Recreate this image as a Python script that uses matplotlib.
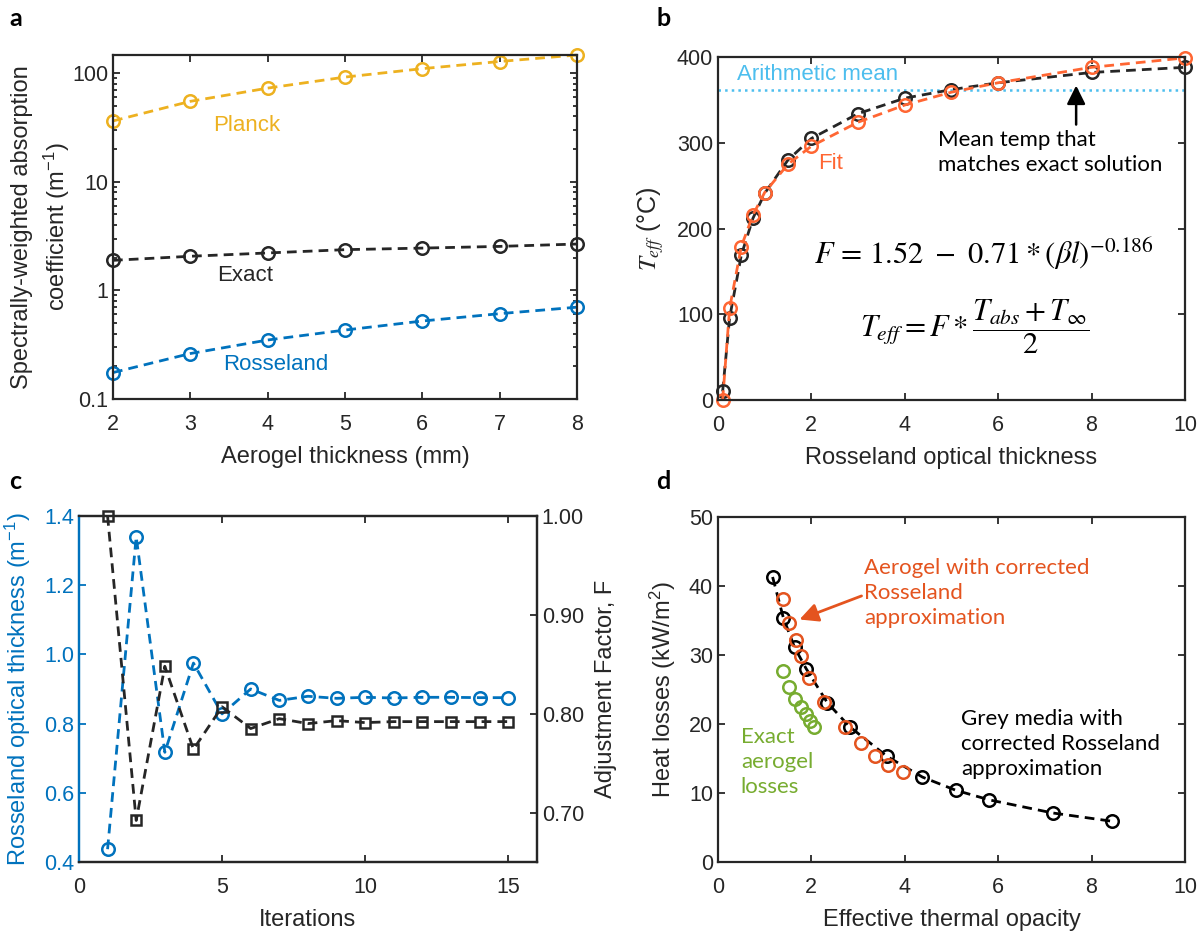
import numpy as np
import matplotlib
matplotlib.use('Agg')
import matplotlib.pyplot as plt
from matplotlib.ticker import FixedLocator, LogLocator, NullFormatter, FormatStrFormatter

plt.rcParams['font.family'] = ['Liberation Sans', 'DejaVu Sans']
plt.rcParams['axes.linewidth'] = 1.6
plt.rcParams['xtick.direction'] = 'in'
plt.rcParams['ytick.direction'] = 'in'
plt.rcParams['xtick.major.pad'] = 11
plt.rcParams['axes.labelpad'] = 8

# panel a: spectrally-weighted absorption coefficient vs aerogel thickness
thickness_mm = [2, 3, 4, 5, 6, 7, 8]
planck = [36.3, 55, 72.8, 92, 110, 128, 147]
exact = [1.89, 2.06, 2.21, 2.37, 2.45, 2.54, 2.67]
rosseland = [0.175, 0.262, 0.349, 0.431, 0.522, 0.61, 0.70]

# panel b: effective temperature vs Rosseland optical thickness
opt_thick = [0.1, 0.25, 0.5, 0.75, 1, 1.5, 2, 3, 4, 5, 6, 8, 10]
teff_exact = [10, 96, 169, 212, 241, 280, 305, 334, 352, 362, 370, 382, 388]
teff_fit = [0, 107, 179, 216, 242, 275, 296, 324, 344, 359, 370, 388, 399]
arith_mean = 362

# panel c: convergence of the iteration
iterations = list(range(1, 16))
ross_iter = [0.437, 1.340, 0.717, 0.975, 0.828, 0.900, 0.867, 0.879, 0.873,
             0.876, 0.874, 0.876, 0.876, 0.875, 0.875]
factor_iter = [1.000, 0.692, 0.848, 0.764, 0.807, 0.785, 0.795, 0.790, 0.793,
               0.791, 0.792, 0.792, 0.792, 0.792, 0.792]

# panel d: heat losses vs effective thermal opacity
grey_x = [1.17, 1.40, 1.64, 1.89, 2.34, 2.82, 3.62, 4.38, 5.09, 5.81, 7.17, 8.44]
grey_y = [41.3, 35.4, 31.1, 28.0, 23.1, 19.6, 15.3, 12.3, 10.4, 9.0, 7.1, 5.9]
aero_x = [1.40, 1.53, 1.67, 1.78, 1.96, 2.28, 2.71, 3.06, 3.36, 3.65, 3.97]
aero_y = [38.1, 34.7, 32.1, 29.8, 26.6, 23.2, 19.6, 17.2, 15.4, 14.1, 13.1]
exloss_x = [1.40, 1.52, 1.65, 1.77, 1.88, 1.98, 2.06]
exloss_y = [27.7, 25.3, 23.6, 22.4, 21.5, 20.5, 19.6]

BLUE = '#0072BD'
YELLOW = '#EDB120'
DARK = '#262626'
ORANGE = '#FF6633'
DORANGE = '#E4541F'
GREEN = '#77AC30'
LBLUE = '#4DBEEE'

TICK_FS = 15.5
LABEL_FS = 17
NOTE_FS = 16
DASH = (3.5, 2.2)


def style(ax):
    ax.tick_params(which='both', top=True, right=True, colors=DARK,
                   labelsize=TICK_FS, width=1.3)
    ax.tick_params(which='major', length=5)
    ax.tick_params(which='minor', length=3)
    for s in ax.spines.values():
        s.set_color(DARK)


def dline(ax, x, y, color, marker='o', ms=9, ls='--'):
    ax.plot(x, y, ls=ls, marker=marker, color=color, mfc='none', ms=ms,
            mew=1.8, lw=2, dashes=DASH if ls == '--' else (None, None),
            clip_on=False)


fig = plt.figure(figsize=(11.98, 9.35), dpi=100)

# ---- a
ax = fig.add_axes([0.0943, 0.5733, 0.3873, 0.3679])
dline(ax, thickness_mm, planck, YELLOW)
dline(ax, thickness_mm, exact, DARK)
dline(ax, thickness_mm, rosseland, BLUE)
ax.set_yscale('log')
ax.set_xlim(2, 8)
ax.set_ylim(0.1, 147)
ax.yaxis.set_major_locator(FixedLocator([0.1, 1, 10, 100]))
ax.set_yticklabels(['0.1', '1', '10', '100'])
ax.yaxis.set_minor_locator(LogLocator(base=10, subs=np.arange(2, 10)))
ax.yaxis.set_minor_formatter(NullFormatter())
style(ax)
ax.set_xlabel('Aerogel thickness (mm)', fontsize=LABEL_FS, color=DARK)
ax.set_ylabel('Spectrally-weighted absorption\ncoefficient (m$\\mathregular{^{-1}}$)',
              fontsize=LABEL_FS, color=DARK, linespacing=1.4, labelpad=0)
ax.text(3.30, 33, 'Planck', color=YELLOW, fontsize=NOTE_FS, va='center')
ax.text(3.35, 1.37, 'Exact', color=DARK, fontsize=NOTE_FS, va='center')
ax.text(3.42, 0.206, 'Rosseland', color=BLUE, fontsize=NOTE_FS, va='center')

# ---- b
ax = fig.add_axes([0.5993, 0.5722, 0.3898, 0.3668])
ax.axhline(arith_mean, color=LBLUE, ls=':', lw=1.8)
dline(ax, opt_thick, teff_exact, DARK)
dline(ax, opt_thick, teff_fit, ORANGE)
ax.set_xlim(0, 10)
ax.set_ylim(0, 400)
ax.set_xticks(range(0, 11, 2))
ax.set_yticks(range(0, 401, 100))
style(ax)
ax.set_xlabel('Rosseland optical thickness', fontsize=LABEL_FS, color=DARK)
ax.set_ylabel('$T_{eff}$ (°C)', fontsize=LABEL_FS + 1, color=DARK,
              math_fontfamily='stix')
ax.text(0.40, 380, 'Arithmetic mean', color=LBLUE, fontsize=NOTE_FS, va='center')
ax.text(2.15, 276, 'Fit', color=ORANGE, fontsize=NOTE_FS, va='center')
ax.annotate('', xy=(7.67, 370), xytext=(7.67, 318),
            arrowprops=dict(arrowstyle='-|>', color='black', lw=1.8,
                            mutation_scale=28))
ax.text(4.72, 289, 'Mean temp that\nmatches exact solution', color='black',
        fontsize=NOTE_FS, va='center', family=['Lato', 'DejaVu Sans'],
        linespacing=1.3)
ax.text(2.05, 171, r'$F\,=\,1.52\ -\ 0.71*(\beta l)^{-0.186}$', fontsize=22,
        va='center', math_fontfamily='stix')
ax.text(3.05, 86, r'$T_{eff}=F*\dfrac{T_{abs}+T_{\infty}}{2}$', fontsize=22,
        va='center', math_fontfamily='stix')

# ---- c
ax = fig.add_axes([0.0659, 0.0781, 0.3823, 0.370])
ax2 = ax.twinx()
dline(ax, iterations, ross_iter, BLUE)
dline(ax2, iterations, factor_iter, DARK, marker='s', ms=7)
ax.set_xlim(0, 16)
ax.set_xticks([0, 5, 10, 15])
ax.set_ylim(0.4, 1.4)
ax.set_yticks(np.arange(0.4, 1.41, 0.2))
ax.yaxis.set_major_formatter(FormatStrFormatter('%.1f'))
ax2.set_ylim(0.65, 1.00)
ax2.set_yticks([0.70, 0.80, 0.90, 1.00])
ax2.yaxis.set_major_formatter(FormatStrFormatter('%.2f'))
ax.tick_params(top=True, right=False, labelsize=TICK_FS, width=1.3, length=5,
               colors=DARK)
ax.tick_params(axis='y', colors=BLUE)
ax2.tick_params(labelsize=TICK_FS, width=1.3, length=5, colors=DARK)
for a_ in (ax, ax2):
    for s in a_.spines.values():
        s.set_color(DARK)
    a_.spines['left'].set_color(BLUE)
ax.set_xlabel('Iterations', fontsize=LABEL_FS, color=DARK)
ax.set_ylabel('Rosseland optical thickness (m$\\mathregular{^{-1}}$)',
              fontsize=LABEL_FS, color=BLUE)
ax2.set_ylabel('Adjustment Factor, F', fontsize=LABEL_FS, color=DARK)

# ---- d
ax = fig.add_axes([0.5993, 0.0781, 0.3898, 0.369])
ax.plot(grey_x, grey_y, ls='--', dashes=DASH, marker='o', color='black',
        mfc='none', ms=9, mew=1.8, lw=2)
ax.plot(aero_x, aero_y, ls='none', marker='o', color=DORANGE, mfc='none',
        ms=9, mew=1.8)
ax.plot(exloss_x, exloss_y, ls='none', marker='o', color=GREEN, mfc='none',
        ms=9, mew=1.8)
ax.set_xlim(0, 10)
ax.set_ylim(0, 50)
ax.set_xticks(range(0, 11, 2))
ax.set_yticks(range(0, 51, 10))
style(ax)
ax.set_xlabel('Effective thermal opacity', fontsize=LABEL_FS, color=DARK)
ax.set_ylabel('Heat losses (kW/m$\\mathregular{^{2}}$)', fontsize=LABEL_FS,
              color=DARK)
ax.annotate('', xy=(1.69, 35.0), xytext=(3.13, 38.7),
            arrowprops=dict(arrowstyle='-|>', color=DORANGE, lw=2,
                            mutation_scale=28))
ax.text(3.13, 39, 'Aerogel with corrected\nRosseland\napproximation',
        color=DORANGE, fontsize=NOTE_FS, va='center',
        family=['Lato', 'DejaVu Sans'], linespacing=1.3)
ax.text(5.21, 17.1, 'Grey media with\ncorrected Rosseland\napproximation',
        color='black', fontsize=NOTE_FS, va='center',
        family=['Lato', 'DejaVu Sans'], linespacing=1.3)
ax.text(0.49, 14.5, 'Exact\naerogel\nlosses', color=GREEN, fontsize=NOTE_FS,
        va='center', family=['Lato', 'DejaVu Sans'], linespacing=1.3)

for lbl, x, y in [('a', 0.008, 0.992), ('b', 0.548, 0.992),
                  ('c', 0.008, 0.497), ('d', 0.548, 0.497)]:
    fig.text(x, y, lbl, fontsize=18, fontweight='bold', va='top',
             family=['Lato', 'DejaVu Sans'])

fig.savefig('out.png', dpi=100)
